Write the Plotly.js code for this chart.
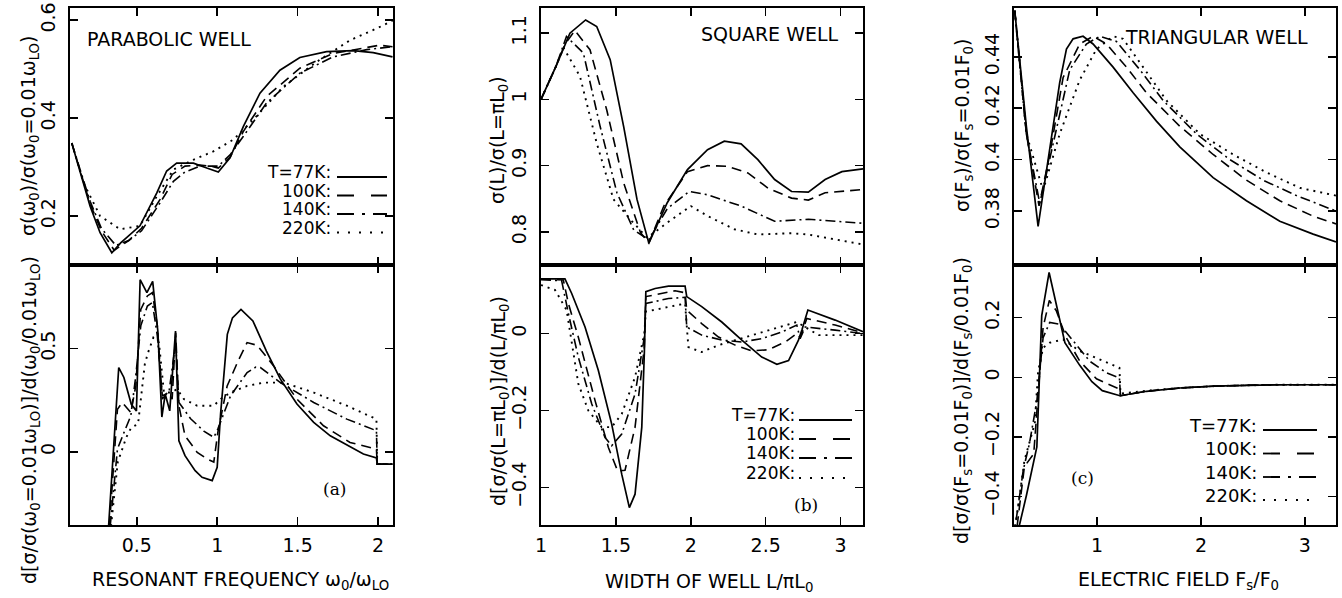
<!DOCTYPE html>
<html>
<head>
<meta charset="utf-8">
<script src="https://cdn.plot.ly/plotly-3.0.1.min.js"></script>
<style>html,body{margin:0;padding:0;background:#fff;}#chart{width:1342px;height:598px;}</style>
</head>
<body>
<div id="chart"></div>
<script>
// ---------------- DATA ----------------
var seriesNames = ["T=77K:", "100K:", "140K:", "220K:"];

// Panel (a) top: sigma(w0)/sigma(w0=0.01wLO) vs w0/wLO
var aTopX77 = [0.096,0.21,0.272,0.345,0.40,0.52,0.624,0.686,0.748,0.852,0.935,1.007,1.08,1.163,1.266,1.39,1.514,1.68,1.846,1.97,2.09];
var aTopY77 = [0.349,0.22,0.166,0.125,0.145,0.18,0.247,0.292,0.308,0.308,0.298,0.29,0.319,0.383,0.451,0.498,0.524,0.536,0.538,0.534,0.525];
var aTopX100 = [0.096,0.21,0.28,0.36,0.45,0.53,0.645,0.72,0.8,0.893,0.96,1.007,1.08,1.163,1.307,1.514,1.72,1.887,2.01,2.09];
var aTopY100 = [0.349,0.225,0.17,0.13,0.15,0.175,0.234,0.285,0.302,0.304,0.302,0.298,0.32,0.373,0.444,0.502,0.532,0.542,0.549,0.546];
var aTopX140 = [0.096,0.21,0.28,0.37,0.45,0.53,0.645,0.728,0.8,0.893,1.007,1.08,1.163,1.307,1.514,1.72,1.93,2.09];
var aTopY140 = [0.349,0.23,0.175,0.14,0.15,0.17,0.227,0.271,0.29,0.302,0.302,0.325,0.363,0.431,0.492,0.525,0.54,0.546];
var aTopX220 = [0.096,0.169,0.272,0.397,0.52,0.624,0.728,0.852,0.976,1.1,1.225,1.41,1.618,1.825,1.99,2.09];
var aTopY220 = [0.349,0.268,0.2,0.173,0.18,0.24,0.295,0.315,0.332,0.356,0.397,0.464,0.515,0.559,0.583,0.599];

// Panel (a) bottom: derivative
var aBotX77 = [0.325,0.388,0.42,0.466,0.498,0.521,0.563,0.599,0.631,0.656,0.677,0.705,0.741,0.753,0.762,0.8,0.863,0.906,0.969,1.0,1.021,1.063,1.095,1.148,1.222,1.306,1.393,1.496,1.6,1.703,1.806,1.909,1.99,1.995,2.09];
var aBotY77 = [-0.36,0.408,0.36,0.23,0.198,0.834,0.771,0.826,0.585,0.168,0.279,0.198,0.585,0.295,0.053,-0.019,-0.092,-0.124,-0.14,-0.075,0.182,0.569,0.649,0.69,0.634,0.488,0.352,0.231,0.142,0.077,0.032,-0.011,-0.03,-0.06,-0.06];
var aBotX100 = [0.33,0.38,0.41,0.463,0.494,0.525,0.566,0.597,0.628,0.659,0.69,0.72,0.742,0.762,0.8,0.876,0.938,0.979,1.004,1.062,1.13,1.186,1.248,1.351,1.496,1.661,1.826,1.99,1.995,2.09];
var aBotY100 = [-0.36,0.206,0.239,0.19,0.319,0.69,0.755,0.771,0.61,0.255,0.287,0.255,0.577,0.223,0.077,-0.003,-0.035,-0.05,0.094,0.319,0.44,0.529,0.516,0.416,0.255,0.126,0.045,0.013,-0.06,-0.06];
var aBotX140 = [0.335,0.38,0.421,0.463,0.494,0.525,0.566,0.597,0.628,0.659,0.7,0.742,0.762,0.835,0.917,0.979,1.004,1.083,1.186,1.24,1.269,1.393,1.6,1.806,1.99,1.995,2.09];
var aBotY140 = [-0.36,0.013,0.094,0.174,0.368,0.61,0.706,0.723,0.561,0.271,0.287,0.529,0.239,0.16,0.1,0.07,0.11,0.271,0.384,0.41,0.408,0.335,0.239,0.158,0.102,-0.06,-0.06];
var aBotX220 = [0.34,0.382,0.435,0.466,0.508,0.55,0.57,0.603,0.638,0.669,0.711,0.752,0.793,0.876,0.979,1.02,1.083,1.186,1.29,1.413,1.6,1.806,1.99,1.995,2.09];
var aBotY220 = [-0.36,-0.05,0.07,0.118,0.134,0.424,0.48,0.553,0.529,0.287,0.287,0.303,0.255,0.223,0.223,0.255,0.287,0.319,0.335,0.335,0.287,0.223,0.158,-0.06,-0.06];

// Panel (b) top: sigma(L)/sigma(L=piL0) vs L/piL0
var bTopX77 = [1,1.1,1.193,1.298,1.372,1.462,1.552,1.641,1.72,1.843,1.978,2.112,2.224,2.336,2.448,2.56,2.673,2.785,2.897,3.009,3.15];
var bTopY77 = [1.0,1.05,1.1,1.12,1.11,1.06,0.959,0.849,0.783,0.844,0.894,0.924,0.937,0.933,0.909,0.879,0.861,0.86,0.879,0.891,0.895];
var bTopX100 = [1,1.1,1.16,1.226,1.327,1.439,1.552,1.664,1.72,1.82,1.978,2.112,2.247,2.381,2.516,2.673,2.785,2.897,3.15];
var bTopY100 = [1.0,1.05,1.083,1.104,1.075,0.984,0.874,0.799,0.783,0.839,0.891,0.9,0.899,0.889,0.866,0.851,0.848,0.859,0.864];
var bTopX140 = [1,1.1,1.17,1.283,1.395,1.507,1.619,1.72,1.843,1.989,2.112,2.336,2.56,2.785,3.15];
var bTopY140 = [1.0,1.05,1.095,1.07,0.959,0.859,0.803,0.788,0.835,0.861,0.856,0.839,0.816,0.819,0.813];
var bTopX220 = [1,1.1,1.15,1.26,1.372,1.484,1.608,1.709,1.843,2.0,2.112,2.291,2.448,2.673,2.785,3.15];
var bTopY220 = [1.0,1.05,1.078,1.035,0.934,0.849,0.816,0.791,0.814,0.839,0.824,0.804,0.796,0.798,0.796,0.781];

// Panel (b) bottom: derivative
var bBotX77 = [1,1.16,1.205,1.294,1.383,1.472,1.539,1.59,1.628,1.673,1.69,1.7,1.762,1.851,1.962,1.973,2.073,2.207,2.341,2.474,2.575,2.653,2.719,2.742,2.782,2.964,3.15];
var bBotY77 = [0.142,0.142,0.104,0.017,-0.096,-0.235,-0.365,-0.452,-0.417,-0.243,-0.05,0.109,0.117,0.123,0.123,0.096,0.07,0.03,-0.017,-0.061,-0.08,-0.07,-0.017,0.009,0.061,0.035,0.005];
var bBotX100 = [1,1.149,1.183,1.249,1.361,1.45,1.512,1.561,1.628,1.69,1.7,1.806,1.895,1.962,1.973,2.073,2.185,2.296,2.407,2.519,2.63,2.708,2.73,2.775,2.964,3.15];
var bBotY100 = [0.142,0.139,0.078,-0.009,-0.174,-0.296,-0.357,-0.355,-0.243,-0.035,0.096,0.104,0.111,0.106,0.061,0.026,-0.009,-0.03,-0.045,-0.042,-0.022,0,-0.01,0.039,0.022,0.002];
var bBotX140 = [1,1.138,1.183,1.249,1.339,1.428,1.472,1.539,1.628,1.69,1.7,1.851,1.962,1.973,2.073,2.207,2.341,2.474,2.608,2.708,2.73,2.764,2.964,3.15];
var bBotY140 = [0.14,0.137,0.052,-0.061,-0.183,-0.27,-0.291,-0.261,-0.157,-0.009,0.078,0.091,0.094,0.017,-0.004,-0.017,-0.022,-0.013,0.004,0.022,-0.013,0.017,0.009,0];
var bBotX220 = [1,1.094,1.171,1.205,1.249,1.316,1.405,1.472,1.539,1.628,1.69,1.7,1.851,1.962,1.984,2.073,2.185,2.296,2.474,2.63,2.708,2.853,3.15];
var bBotY220 = [0.126,0.113,0.061,-0.026,-0.13,-0.2,-0.243,-0.243,-0.209,-0.113,0,0.057,0.07,0.078,-0.035,-0.048,-0.03,-0.017,0.004,0.022,0.03,-0.004,-0.004];

// Panel (c) top: sigma(Fs)/sigma(Fs=0.01F0) vs Fs/F0
var cTopX77 = [0.207,0.319,0.432,0.512,0.64,0.705,0.769,0.865,0.961,1.154,1.347,1.571,1.796,2.117,2.438,2.759,3.08,3.3];
var cTopY77 = [0.458,0.413,0.374,0.395,0.43,0.443,0.447,0.448,0.445,0.436,0.426,0.415,0.405,0.393,0.384,0.376,0.371,0.368];
var cTopX100 = [0.207,0.319,0.441,0.544,0.673,0.833,0.961,1.09,1.283,1.475,1.796,2.117,2.438,2.759,3.08,3.3];
var cTopY100 = [0.458,0.41,0.382,0.402,0.432,0.445,0.448,0.445,0.436,0.426,0.413,0.402,0.392,0.384,0.378,0.375];
var cTopX140 = [0.207,0.319,0.448,0.576,0.737,0.897,1.026,1.186,1.411,1.636,1.957,2.278,2.599,2.92,3.3];
var cTopY140 = [0.458,0.41,0.383,0.406,0.435,0.445,0.448,0.446,0.435,0.423,0.41,0.4,0.392,0.386,0.38];
var cTopX220 = [0.207,0.319,0.48,0.64,0.833,0.994,1.154,1.25,1.443,1.668,1.989,2.31,2.631,2.952,3.3];
var cTopY220 = [0.458,0.41,0.388,0.41,0.431,0.443,0.448,0.447,0.436,0.423,0.41,0.402,0.395,0.389,0.386];

// Panel (c) bottom: derivative
var cBotX77 = [0.25,0.32,0.42,0.467,0.538,0.61,0.69,0.833,0.95,1.05,1.22,1.475,1.796,2.117,2.438,2.759,3.3];
var cBotY77 = [-0.5,-0.396,-0.234,0.207,0.352,0.245,0.116,0.04,-0.015,-0.045,-0.062,-0.047,-0.036,-0.03,-0.027,-0.025,-0.025];
var cBotX100 = [0.23,0.3,0.39,0.45,0.48,0.54,0.608,0.7,0.833,0.994,1.154,1.215,1.225,1.475,1.796,2.117,2.438,2.759,3.3];
var cBotY100 = [-0.5,-0.3,-0.257,0.05,0.167,0.258,0.223,0.135,0.054,-0.005,-0.03,-0.04,-0.062,-0.047,-0.036,-0.03,-0.027,-0.025,-0.025];
var cBotX140 = [0.22,0.29,0.35,0.42,0.48,0.544,0.64,0.769,0.929,1.09,1.215,1.225,1.475,1.796,2.117,2.438,2.759,3.3];
var cBotY140 = [-0.48,-0.31,-0.22,-0.08,0.133,0.184,0.178,0.122,0.054,0.015,-0.002,-0.062,-0.047,-0.036,-0.03,-0.027,-0.025,-0.025];
var cBotX220 = [0.21,0.23,0.3,0.4,0.432,0.48,0.544,0.673,0.833,0.994,1.154,1.215,1.225,1.475,1.796,2.117,2.438,2.759,3.3];
var cBotY220 = [-0.5,-0.46,-0.28,-0.155,0.02,0.099,0.116,0.127,0.088,0.065,0.043,0.032,-0.055,-0.045,-0.036,-0.03,-0.027,-0.025,-0.025];

// Tick values
var aXTicks = [0.5, 1, 1.5, 2];
var bXTicks = [1, 1.5, 2, 2.5, 3];
var cXTicks = [1, 2, 3];
var aTopYTicks = [0.2, 0.4, 0.6];
var aBotYTicks = [0, 0.5];
var bTopYTicks = [0.8, 0.9, 1, 1.1];
var bBotYTicks = [-0.4, -0.2, 0];
var cTopYTicks = [0.38, 0.4, 0.42, 0.44];
var cBotYTicks = [-0.4, -0.2, 0, 0.2];

// ---------------- STYLE / LAYOUT ----------------
var W = 1342, H = 598;
function px(x){ return x / W; }
function py(y){ return 1 - y / H; }
var FONT = 'DejaVu Sans, Verdana, sans-serif';
var SERIF = 'DejaVu Serif, Liberation Serif, serif';

var dashes = ['solid', '10px,6px', '10px,4px,2px,4px', '2px,5px'];
var widths = [1.7, 1.6, 1.6, 1.9];

var panels = [
  {top: [[aTopX77,aTopY77],[aTopX100,aTopY100],[aTopX140,aTopY140],[aTopX220,aTopY220]],
   bot: [[aBotX77,aBotY77],[aBotX100,aBotY100],[aBotX140,aBotY140],[aBotX220,aBotY220]],
   xr: [0.085, 2.093], xt: aXTicks, tyr: [0.1, 0.625], tyt: aTopYTicks, byr: [-0.355, 0.905], byt: aBotYTicks,
   dom: [70, 393]},
  {top: [[bTopX77,bTopY77],[bTopX100,bTopY100],[bTopX140,bTopY140],[bTopX220,bTopY220]],
   bot: [[bBotX77,bBotY77],[bBotX100,bBotY100],[bBotX140,bBotY140],[bBotX220,bBotY220]],
   xr: [1, 3.15], xt: bXTicks, tyr: [0.75, 1.138], tyt: bTopYTicks, byr: [-0.497, 0.178], byt: bBotYTicks,
   dom: [541, 863]},
  {top: [[cTopX77,cTopY77],[cTopX100,cTopY100],[cTopX140,cTopY140],[cTopX220,cTopY220]],
   bot: [[cBotX77,cBotY77],[cBotX100,cBotY100],[cBotX140,cBotY140],[cBotX220,cBotY220]],
   xr: [0.2, 3.3], xt: cXTicks, tyr: [0.359, 0.459], tyt: cTopYTicks, byr: [-0.496, 0.377], byt: cBotYTicks,
   dom: [1014, 1336]}
];

var topDom = [py(265), py(8)];
var botDom = [py(525), py(265)];

function axisBase(){
  return {showline:true, linewidth:2, linecolor:'black', mirror:'allticks', ticks:'inside', ticklen:8,
          tickwidth:1.5, tickcolor:'black', showgrid:false, zeroline:false,
          tickfont:{family:FONT, size:19, color:'black'}};
}

var traces = [];
var layout = {width:W, height:H, margin:{l:0,r:0,t:0,b:0}, showlegend:false,
  paper_bgcolor:'white', plot_bgcolor:'white', annotations:[], shapes:[]};

panels.forEach(function(p, pi){
  var iTop = pi*2 + 1, iBot = pi*2 + 2;
  var xd = [px(p.dom[0]), px(p.dom[1])];
  var xk = function(i){ return i === 1 ? 'xaxis' : 'xaxis' + i; };
  var yk = function(i){ return i === 1 ? 'yaxis' : 'yaxis' + i; };
  var xr = function(i){ return i === 1 ? 'x' : 'x' + i; };
  var yr = function(i){ return i === 1 ? 'y' : 'y' + i; };

  var xt = Object.assign(axisBase(), {domain:xd, range:p.xr, tickvals:p.xt, showticklabels:false, anchor:yr(iTop)});
  var xb = Object.assign(axisBase(), {domain:xd, range:p.xr, tickvals:p.xt, anchor:yr(iBot), ticklabelstandoff:2});
  var yt = Object.assign(axisBase(), {domain:topDom, range:p.tyr, tickvals:p.tyt, anchor:xr(iTop), tickangle:-90, ticklabelstandoff:5});
  var yb = Object.assign(axisBase(), {domain:botDom, range:p.byr, tickvals:p.byt, anchor:xr(iBot), tickangle:-90, ticklabelstandoff:5});
  layout[xk(iTop)] = xt; layout[xk(iBot)] = xb;
  layout[yk(iTop)] = yt; layout[yk(iBot)] = yb;

  [['top', iTop], ['bot', iBot]].forEach(function(pair){
    p[pair[0]].forEach(function(s, si){
      traces.push({x:s[0], y:s[1], xaxis:xr(pair[1]), yaxis:yr(pair[1]), type:'scatter', mode:'lines',
        name:seriesNames[si], line:{color:'black', width:widths[si], dash:dashes[si]}, hoverinfo:'skip'});
    });
  });
});

function ann(text, x, y, opts){
  var a = {text:text, x:px(x), y:py(y), xref:'paper', yref:'paper', showarrow:false,
           font:{family:FONT, size:19, color:'black'}, xanchor:'center', yanchor:'middle'};
  return Object.assign(a, opts || {});
}

// Panel titles
layout.annotations.push(ann('PARABOLIC WELL', 169, 39));
layout.annotations.push(ann('SQUARE WELL', 770, 34));
layout.annotations.push(ann('TRIANGULAR WELL', 1216, 37));
// Panel labels
layout.annotations.push(ann('(a)', 334, 489, {font:{family:SERIF, size:17, color:'black'}}));
layout.annotations.push(ann('(b)', 806, 505, {font:{family:SERIF, size:17, color:'black'}}));
layout.annotations.push(ann('(c)', 1082, 478, {font:{family:SERIF, size:17, color:'black'}}));

// x-axis titles
layout.annotations.push(ann('RESONANT FREQUENCY ω<sub>0</sub>/ω<sub>LO</sub>', 240, 580));
layout.annotations.push(ann('WIDTH OF WELL L/πL<sub>0</sub>', 709, 582));
layout.annotations.push(ann('ELECTRIC FIELD F<sub>s</sub>/F<sub>0</sub>', 1178, 580));

// y-axis titles
var vt = {textangle:-90};
layout.annotations.push(ann('σ(ω<sub>0</sub>)/σ(ω<sub>0</sub>=0.01ω<sub>LO</sub>)', 30, 136, vt));
layout.annotations.push(ann('d[σ/σ(ω<sub>0</sub>=0.01ω<sub>LO</sub>)]/d(ω<sub>0</sub>/0.01ω<sub>LO</sub>)', 30, 420, vt));
layout.annotations.push(ann('σ(L)/σ(L=πL<sub>0</sub>)', 498, 140, vt));
layout.annotations.push(ann('d[σ/σ(L=πL<sub>0</sub>)]/d(L/πL<sub>0</sub>)', 499, 401, vt));
layout.annotations.push(ann('σ(F<sub>s</sub>)/σ(F<sub>s</sub>=0.01F<sub>0</sub>)', 964, 125, vt));
layout.annotations.push(ann('d[σ/σ(F<sub>s</sub>=0.01F<sub>0</sub>)]/d(F<sub>s</sub>/0.01F<sub>0</sub>)', 962, 401, vt));

// Legends: text + sample lines
var legDash = ['solid', '17px,17px', '17px,8px,3px,8px', '2px,9px'];
function legend(xRight, rows, lineX0, lineX1, size){
  rows.forEach(function(yy, i){
    layout.annotations.push(ann(seriesNames[i], xRight, yy, {xanchor:'right', font:{family:FONT, size:size, color:'black'}}));
    layout.shapes.push({type:'line', xref:'paper', yref:'paper', x0:px(lineX0), x1:px(lineX1), y0:py(yy+5), y1:py(yy+5),
      line:{color:'black', width: i === 3 ? 2 : 1.8, dash:legDash[i]}});
  });
}
legend(333, [172, 190.5, 209, 227.5], 337, 387, 17);
legend(797, [415, 434, 453, 473], 799, 852, 17);
legend(1259, [425, 448.5, 472, 495], 1263, 1317, 18);

Plotly.newPlot('chart', traces, layout, {staticPlot:true});
</script>
</body>
</html>
